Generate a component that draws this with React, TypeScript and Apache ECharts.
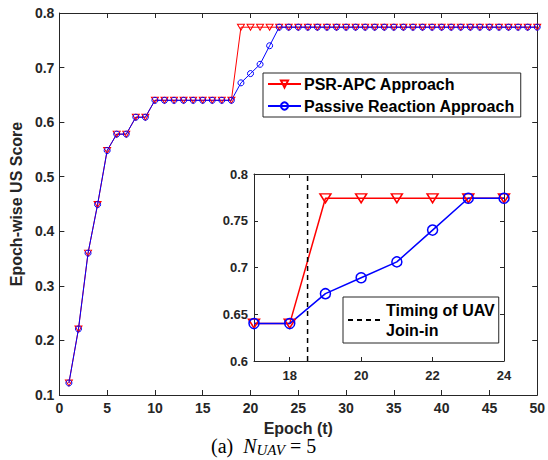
import React, { useEffect, useRef } from "react";
import * as echarts from "echarts";

const epochs: number[] = Array.from({ length: 50 }, (_, i) => i + 1);

const psrScores: number[] = [
  0.122, 0.221, 0.36, 0.449, 0.548, 0.578, 0.578, 0.609, 0.609, 0.64,
  0.64, 0.64, 0.64, 0.64, 0.64, 0.64, 0.64, 0.64, 0.774, 0.774,
  0.774, 0.774, 0.774, 0.774, 0.774, 0.774, 0.774, 0.774, 0.774, 0.774,
  0.774, 0.774, 0.774, 0.774, 0.774, 0.774, 0.774, 0.774, 0.774, 0.774,
  0.774, 0.774, 0.774, 0.774, 0.774, 0.774, 0.774, 0.774, 0.774, 0.774,
];

const passiveScores: number[] = [
  0.122, 0.221, 0.36, 0.449, 0.548, 0.578, 0.578, 0.609, 0.609, 0.64,
  0.64, 0.64, 0.64, 0.64, 0.64, 0.64, 0.64, 0.64, 0.672, 0.689,
  0.706, 0.74, 0.774, 0.774, 0.774, 0.774, 0.774, 0.774, 0.774, 0.774,
  0.774, 0.774, 0.774, 0.774, 0.774, 0.774, 0.774, 0.774, 0.774, 0.774,
  0.774, 0.774, 0.774, 0.774, 0.774, 0.774, 0.774, 0.774, 0.774, 0.774,
];

const joinInEpoch = 18.5;
const insetRange: number[] = [17, 24];
const insetYRange: number[] = [0.6, 0.8];
const insetXTicks: number[] = [18, 20, 22, 24];

const seriesNames = ["PSR-APC Approach", "Passive Reaction Approach"];
const joinName = "Timing of UAV Join-in";

const FONT = "'Liberation Sans', Arial, Helvetica, sans-serif";
const SERIF = "'Liberation Serif', 'Times New Roman', serif";
const AX = "#262626";
const RED = "#ff0000";
const BLUE = "#0000ff";
const TRI_DOWN = "path://M0,0 L10,0 L5,8.66 Z";

export default function App() {
  const ref = useRef<HTMLDivElement>(null);

  useEffect(() => {
    document.body.style.margin = "0";
    if (!ref.current) return;
    const chart = echarts.init(ref.current, undefined, { renderer: "svg" });

    const pair = (ys: number[]) => epochs.map((x, i) => [x, ys[i]]);
    const insetPair = (ys: number[]) =>
      epochs
        .map((x, i) => [x, ys[i]])
        .filter((p) => p[0] >= insetRange[0] && p[0] <= insetRange[1]);

    const baseAxis = {
      axisLine: { show: true, onZero: false, lineStyle: { color: AX, width: 1 } },
      splitLine: { show: false },
    };

    const option: any = {
      animation: false,
      backgroundColor: "#ffffff",
      textStyle: { fontFamily: FONT },
      grid: [
        { left: 53, right: 9, top: 13, bottom: 65, containLabel: false },
        {
          left: 254,
          right: 44,
          top: 174,
          bottom: 99,
          show: true,
          backgroundColor: "#ffffff",
          borderWidth: 0,
          z: 3,
        },
      ],
      xAxis: [
        {
          ...baseAxis,
          type: "value",
          gridIndex: 0,
          min: 0,
          max: 50,
          interval: 5,
          name: "Epoch (t)",
          nameLocation: "middle",
          nameGap: 25,
          nameTextStyle: { color: AX, fontWeight: "bold", fontSize: 16, fontFamily: FONT },
          axisTick: { inside: true, length: 5, lineStyle: { color: AX } },
          axisLabel: { color: AX, fontWeight: "bold", fontSize: 14, margin: 6, fontFamily: FONT },
        },
        {
          ...baseAxis,
          type: "value",
          gridIndex: 0,
          position: "top",
          min: 0,
          max: 50,
          interval: 5,
          axisTick: { inside: true, length: 5, lineStyle: { color: AX } },
          axisLabel: { show: false },
        },
        {
          ...baseAxis,
          type: "value",
          gridIndex: 1,
          min: insetRange[0],
          max: insetRange[1],
          z: 5,
          axisTick: { inside: true, length: 4, customValues: insetXTicks, lineStyle: { color: AX } },
          axisLabel: {
            customValues: insetXTicks,
            color: AX,
            fontWeight: "bold",
            fontSize: 13,
            margin: 8,
            fontFamily: FONT,
          },
        },
        {
          ...baseAxis,
          type: "value",
          gridIndex: 1,
          position: "top",
          min: insetRange[0],
          max: insetRange[1],
          z: 5,
          axisTick: { inside: true, length: 4, customValues: insetXTicks, lineStyle: { color: AX } },
          axisLabel: { show: false, customValues: insetXTicks },
        },
      ],
      yAxis: [
        {
          ...baseAxis,
          type: "value",
          gridIndex: 0,
          min: 0.1,
          max: 0.8,
          interval: 0.1,
          name: "Epoch-wise US Score",
          nameLocation: "middle",
          nameGap: 28,
          nameTextStyle: { color: AX, fontWeight: "bold", fontSize: 16, fontFamily: FONT },
          axisTick: { inside: true, length: 5, lineStyle: { color: AX } },
          axisLabel: {
            color: AX,
            fontWeight: "bold",
            fontSize: 14,
            margin: 5,
            fontFamily: FONT,
            formatter: (v: number) => v.toFixed(1),
          },
        },
        {
          ...baseAxis,
          type: "value",
          gridIndex: 0,
          position: "right",
          min: 0.1,
          max: 0.8,
          interval: 0.1,
          axisTick: { inside: true, length: 5, lineStyle: { color: AX } },
          axisLabel: { show: false },
        },
        {
          ...baseAxis,
          type: "value",
          gridIndex: 1,
          min: insetYRange[0],
          max: insetYRange[1],
          interval: 0.05,
          z: 5,
          axisTick: { inside: true, length: 4, lineStyle: { color: AX } },
          axisLabel: {
            color: AX,
            fontWeight: "bold",
            fontSize: 13,
            margin: 6,
            fontFamily: FONT,
            formatter: (v: number) => String(Number(v.toFixed(2))),
          },
        },
        {
          ...baseAxis,
          type: "value",
          gridIndex: 1,
          position: "right",
          min: insetYRange[0],
          max: insetYRange[1],
          interval: 0.05,
          z: 5,
          axisTick: { inside: true, length: 4, lineStyle: { color: AX } },
          axisLabel: { show: false },
        },
      ],
      legend: [
        {
          data: seriesNames,
          orient: "vertical",
          left: 263,
          top: 73,
          itemWidth: 33,
          itemHeight: 9,
          itemGap: 6,
          padding: [3, 6, 3, 4],
          borderColor: AX,
          borderWidth: 1,
          backgroundColor: "#ffffff",
          z: 10,
          selectedMode: false,
          textStyle: { color: "#000", fontWeight: "bold", fontSize: 16, fontFamily: FONT, padding: [0, 0, 0, -2] },
        },
        {
          data: [{ name: joinName, itemStyle: { opacity: 0 } }],
          orient: "vertical",
          left: 343,
          top: 297,
          itemWidth: 33,
          itemHeight: 10,
          padding: [3, 4, 3, 4],
          borderColor: AX,
          borderWidth: 1,
          backgroundColor: "#ffffff",
          z: 10,
          selectedMode: false,
          itemStyle: { opacity: 0 },
          formatter: () => "Timing of UAV\nJoin-in",
          textStyle: {
            color: "#000",
            fontWeight: "bold",
            fontSize: 16,
            lineHeight: 20,
            fontFamily: FONT,
          },
        },
      ],
      series: [
        {
          name: seriesNames[0],
          type: "line",
          xAxisIndex: 0,
          yAxisIndex: 0,
          data: pair(psrScores),
          symbol: TRI_DOWN,
          symbolSize: [7, 6],
          color: RED,
          lineStyle: { color: RED, width: 1 },
          itemStyle: { color: "rgba(0,0,0,0)", borderColor: RED, borderWidth: 1 },
          z: 2,
        },
        {
          name: seriesNames[1],
          type: "line",
          xAxisIndex: 0,
          yAxisIndex: 0,
          data: pair(passiveScores),
          symbol: "circle",
          symbolSize: 6,
          color: BLUE,
          lineStyle: { color: BLUE, width: 1 },
          itemStyle: { color: "rgba(0,0,0,0)", borderColor: BLUE, borderWidth: 1 },
          z: 2,
        },
        {
          name: seriesNames[0],
          type: "line",
          xAxisIndex: 2,
          yAxisIndex: 2,
          data: insetPair(psrScores),
          symbol: TRI_DOWN,
          symbolSize: [11, 9],
          clip: false,
          color: RED,
          lineStyle: { color: RED, width: 1.5 },
          itemStyle: { color: "rgba(0,0,0,0)", borderColor: RED, borderWidth: 1.5 },
          z: 6,
        },
        {
          name: seriesNames[1],
          type: "line",
          xAxisIndex: 2,
          yAxisIndex: 2,
          data: insetPair(passiveScores),
          symbol: "circle",
          symbolSize: 10,
          clip: false,
          color: BLUE,
          lineStyle: { color: BLUE, width: 1.5 },
          itemStyle: { color: "rgba(0,0,0,0)", borderColor: BLUE, borderWidth: 1.5 },
          z: 6,
        },
        {
          name: joinName,
          type: "line",
          xAxisIndex: 2,
          yAxisIndex: 2,
          data: [
            [joinInEpoch, insetYRange[0]],
            [joinInEpoch, insetYRange[1]],
          ],
          symbol: "none",
          color: "#000",
          lineStyle: { color: "#000", width: 1.5, type: [5, 4] },
          z: 6,
        },
      ],
      graphic: [
        {
          type: "text",
          left: 211,
          top: 436,
          z: 10,
          style: {
            text: "{n|(a)  }{i|N}{s|UAV}{n| = 5}",
            rich: {
              n: { fontFamily: SERIF, fontSize: 20, fill: "#000" },
              i: { fontFamily: SERIF, fontSize: 20, fontStyle: "italic", fill: "#000" },
              s: {
                fontFamily: SERIF,
                fontSize: 15,
                fontStyle: "italic",
                fill: "#000",
                padding: [7, 0, 0, 0],
              },
            },
          },
        },
      ],
    };

    chart.setOption(option);
    return () => chart.dispose();
  }, []);

  return <div ref={ref} style={{ width: 548, height: 460 }} />;
}
